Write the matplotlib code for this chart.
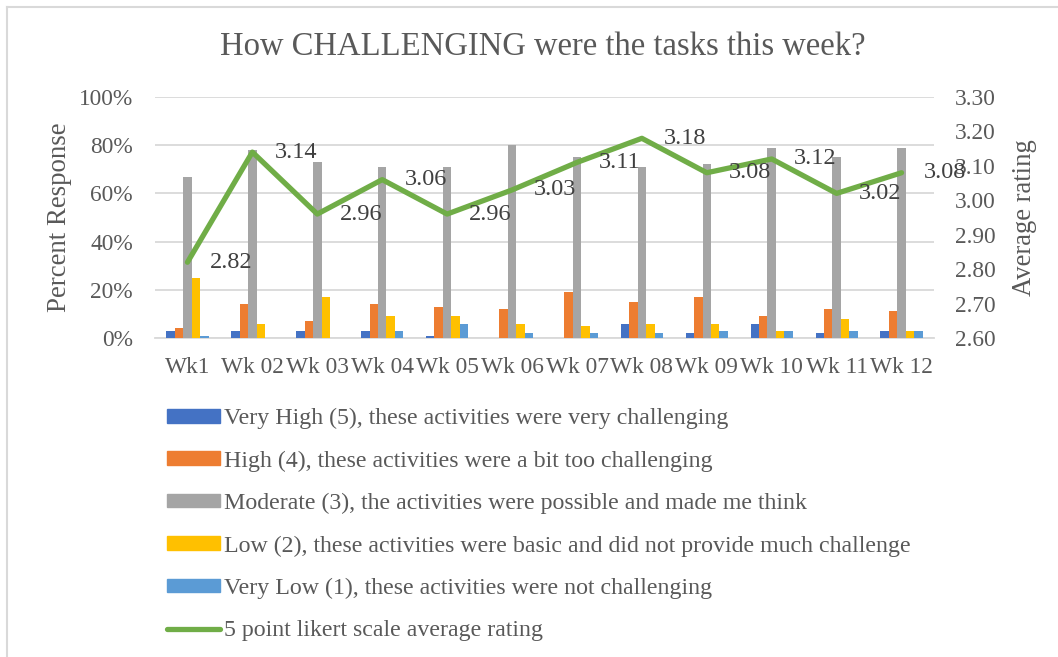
import matplotlib
matplotlib.use("Agg")
import matplotlib.pyplot as plt
from matplotlib.lines import Line2D
import numpy as np

weeks = ["Wk1", "Wk 02", "Wk 03", "Wk 04", "Wk 05", "Wk 06",
         "Wk 07", "Wk 08", "Wk 09", "Wk 10", "Wk 11", "Wk 12"]
very_high = [3, 3, 3, 3, 1, 0, 0, 6, 2, 6, 2, 3]
high = [4, 14, 7, 14, 13, 12, 19, 15, 17, 9, 12, 11]
moderate = [67, 78, 73, 71, 71, 80, 75, 71, 72, 79, 75, 79]
low = [25, 6, 17, 9, 9, 6, 5, 6, 6, 3, 8, 3]
very_low = [1, 0, 0, 3, 6, 2, 2, 2, 3, 3, 3, 3]
avg_rating = [2.82, 3.14, 2.96, 3.06, 2.96, 3.03, 3.11, 3.18, 3.08, 3.12, 3.02, 3.08]

series_names = [
    "Very High (5), these activities were very challenging",
    "High (4), these activities were a bit too challenging",
    "Moderate (3), the activities were possible and made me think",
    "Low (2), these activities were basic and did not provide much challenge",
    "Very Low (1), these activities were not challenging",
]
line_name = "5 point likert scale average rating"
colors = ["#4472C4", "#ED7D31", "#A5A5A5", "#FFC000", "#5B9BD5"]
line_color = "#70AD47"
text_color = "#595959"

plt.rcParams['font.family'] = ['Liberation Serif', 'DejaVu Serif']

W, H = 1058, 657
fig = plt.figure(figsize=(W / 100, H / 100), dpi=100)

# plot area in pixels
left, right, top, bottom = 155, 934, 97, 338
ax = fig.add_axes([left / W, 1 - bottom / H, (right - left) / W, (bottom - top) / H])
ax2 = ax.twinx()

x = np.arange(len(weeks))
bw = 0.13
data = [very_high, high, moderate, low, very_low]
for i, (vals, c) in enumerate(zip(data, colors)):
    ax.bar(x + (i - 2) * bw, vals, width=bw, color=c, zorder=3)

ax.set_ylim(0, 100)
ax.set_xlim(-0.5, len(weeks) - 0.5)
ax.set_yticks(range(0, 101, 20))
ax.set_yticklabels([f"{v}%" for v in range(0, 101, 20)])
ax.set_xticks(x)
ax.set_xticklabels(weeks)
ax.yaxis.grid(True, color="#D9D9D9", linewidth=1.3, zorder=0)
ax.set_axisbelow(True)
for s in ax.spines.values():
    s.set_visible(False)
for s in ax2.spines.values():
    s.set_visible(False)
ax.spines['bottom'].set_visible(True)
ax.spines['bottom'].set_color("#D9D9D9")
ax.spines['bottom'].set_linewidth(1.3)
ax.tick_params(axis='both', length=0, labelsize=16.8, colors=text_color)
ax.tick_params(axis='y', pad=16)
ax.tick_params(axis='x', pad=14)
ax.set_ylabel("Percent Response", fontsize=19.4, color=text_color, labelpad=5)

ax2.plot(x, avg_rating, color=line_color, linewidth=3.8, solid_capstyle='round',
         solid_joinstyle='round', zorder=4)
ax2.set_ylim(2.60, 3.30)
ax2.set_yticks(np.arange(2.60, 3.301, 0.10))
ax2.set_yticklabels([f"{v:.2f}" for v in np.arange(2.60, 3.301, 0.10)])
ax2.tick_params(axis='y', length=0, labelsize=16.8, colors=text_color, pad=15)
ax2.set_ylabel("Average rating", fontsize=19.2, color=text_color, labelpad=12)
for xi, v in zip(x, avg_rating):
    ax2.annotate(f"{v:.2f}", (xi, v), xytext=(16, 0), textcoords='offset points',
                 ha='left', va='center', fontsize=17.5, color="#404040", zorder=5)

fig.text(543 / W, 1 - 47 / H, "How CHALLENGING were the tasks this week?",
         ha='center', va='center', fontsize=23.5, color=text_color)

handles = [plt.Rectangle((0, 0), 1, 1, color=c) for c in colors]
handles.append(Line2D([0], [0], color=line_color, linewidth=3.8, solid_capstyle='round'))
leg = fig.legend(handles, series_names + [line_name], loc='upper left',
                 bbox_to_anchor=(167 / W, 1 - 408 / H), frameon=False,
                 fontsize=17.2, labelcolor=text_color, handlelength=2.2,
                 handleheight=0.5, handletextpad=0.2, labelspacing=0.89,
                 borderaxespad=0, borderpad=0)

# chart border (top and left)
fig.add_artist(Line2D([7 / W, 1], [1 - 7 / H, 1 - 7 / H], color="#D9D9D9",
                      linewidth=1.5, transform=fig.transFigure))
fig.add_artist(Line2D([7 / W, 7 / W], [0, 1 - 7 / H], color="#D9D9D9",
                      linewidth=1.5, transform=fig.transFigure))

fig.savefig("out.png", dpi=100)
